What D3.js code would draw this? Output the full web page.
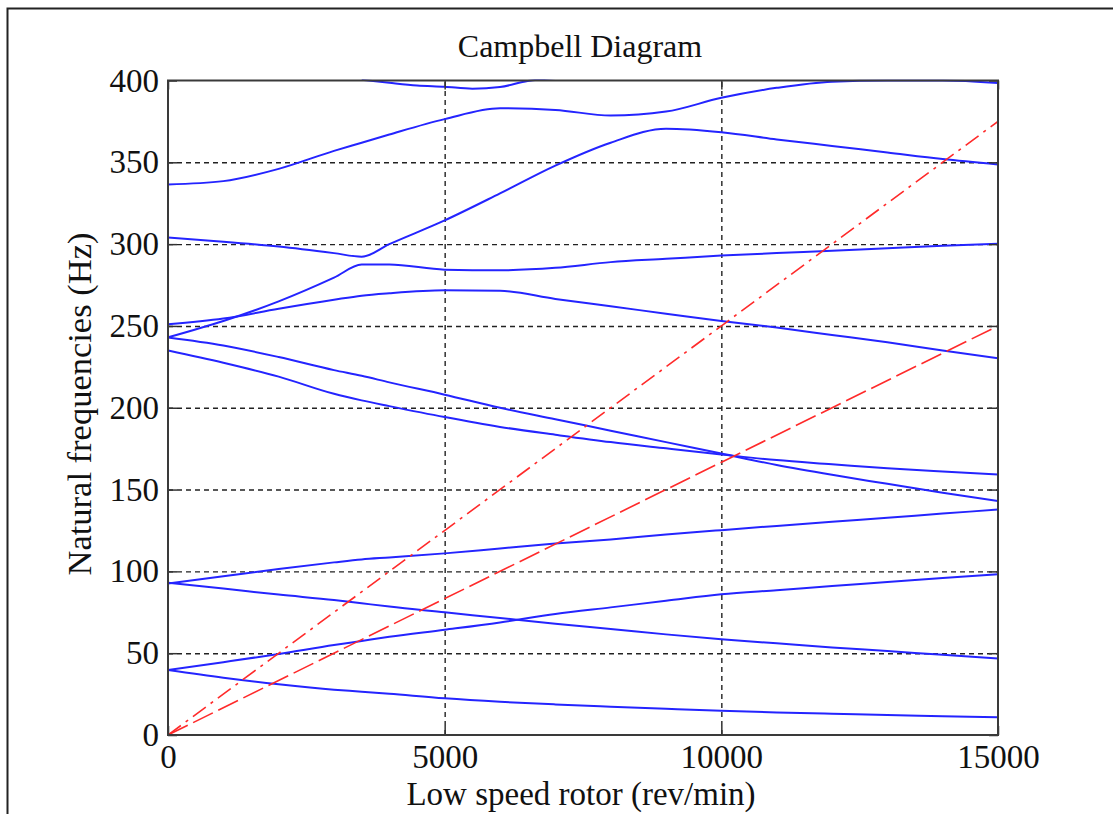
<!DOCTYPE html>
<html>
<head>
<meta charset="utf-8">
<title>Campbell Diagram</title>
<style>
  body { margin: 0; background: #fff; }
  svg { display: block; font-family: "Liberation Serif", "Times New Roman", serif; }
  .grid line { stroke: #222; stroke-width: 1.4; stroke-dasharray: 5,4; }
  .grid .domain { display: none; }
  .ticks line { stroke: #333; stroke-width: 1.5; }
  .ticks .domain { display: none; }
  .mode { fill: none; stroke: #2424ff; stroke-width: 2; }
  .order { fill: none; stroke: #ff2a2a; stroke-width: 1.6; }
</style>
</head>
<body>
<svg id="chart"></svg>
<script src="https://d3js.org/d3.v7.min.js"></script>
<script>
// rotor speed samples (rev/min) shared by the mode curves
const speeds = [0, 1000, 2000, 3000, 3500, 4000, 5000, 6000, 7000, 8000, 9000, 10000, 11000, 12000, 13000, 14000, 15000];

// natural frequencies (Hz)
const mode1  = [39.7, 35, 31, 27.7, 26.5, 25.2, 22.4, 20.3, 18.7, 17.3, 16, 14.8, 13.8, 13, 12.2, 11.5, 10.8];
const mode2  = [39.7, 44.5, 49.5, 55, 57.5, 60, 64.3, 68.8, 74, 78, 82, 86, 88.5, 91, 93.5, 96, 98.2];
const mode3  = [93, 89.5, 85.8, 82.5, 80.5, 78.5, 75, 71.5, 68, 64.8, 61.5, 58.5, 56, 53.5, 51.3, 49, 46.8];
const mode4  = [92.6, 97, 101.5, 105.5, 107.3, 108.5, 111, 114, 117, 119.5, 122.5, 125.2, 127.8, 130.3, 132.8, 135.3, 137.8];
const mode5  = [242.9, 238, 231, 223, 219.5, 215.5, 208, 200, 193, 186, 179, 172, 165, 159, 153.5, 148, 143];
const mode6  = [235, 227.5, 219, 208.5, 204.5, 201, 194.3, 188.3, 183.5, 179, 175.2, 171.5, 168, 165.5, 163, 161, 159.2];
const mode7  = [251, 254.5, 260.5, 266, 268.5, 270, 271.8, 271.5, 266.5, 262, 257.5, 253, 249, 244.5, 240, 235, 230.2];
const mode8  = [243, 253, 265, 279.5, 287.5, 287.6, 284.4, 284, 285.5, 289, 291, 293, 294.5, 296, 297.5, 299, 300.2];
const mode9  = [304, 301.5, 298.5, 294.5, 292.3, 300, 314.5, 331, 348, 362, 370.5, 368.4, 364, 360, 356, 352, 348.7];
const mode10 = [336.5, 338.5, 346, 357, 362, 367, 376.4, 383, 382, 378.6, 381, 389.4, 395.5, 399.3, 400, 400, 398.5];

// short branch that dips below the 400 Hz top edge
const topSpeeds = [3500, 4000, 4500, 5000, 5500, 6000, 6500, 7000];
const mode11    = [400.4, 398.6, 397, 396.2, 395, 396, 399.7, 401.5];

// excitation lines (1x and 1.5x running speed)
const orderSpeeds = [0, 15000];
const order1  = [0, 250];
const order15 = [0, 375];

const xTicks = [0, 5000, 10000, 15000];
const yTicks = [0, 50, 100, 150, 200, 250, 300, 350, 400];

const width = 1113, height = 814;
const plotLeft = 168, plotRight = 998, plotTop = 80.5, plotBottom = 735;

const svg = d3.select('#chart').attr('width', width).attr('height', height);

const x = d3.scaleLinear().domain([0, 15000]).range([plotLeft, plotRight]);
const y = d3.scaleLinear().domain([0, 400]).range([plotBottom, plotTop]);

// outer frame of the figure (top and left edges visible)
svg.append('path')
  .attr('d', `M7.5,${height} V8.5 H${width}`)
  .attr('fill', 'none').attr('stroke', '#222').attr('stroke-width', 2);

// dashed grid
svg.append('g').attr('class', 'grid')
  .attr('transform', `translate(0,${plotBottom})`)
  .call(d3.axisBottom(x).tickValues([5000, 10000]).tickSize(-(plotBottom - plotTop)).tickFormat(''));
svg.append('g').attr('class', 'grid')
  .attr('transform', `translate(${plotLeft},0)`)
  .call(d3.axisLeft(y).tickValues(yTicks.slice(1, -1)).tickSize(-(plotRight - plotLeft)).tickFormat(''));

// curves
svg.append('clipPath').attr('id', 'plot')
  .append('rect').attr('x', plotLeft).attr('y', plotTop - 1)
  .attr('width', plotRight - plotLeft).attr('height', plotBottom - plotTop + 1);

const modeLine = d3.line().x((d, i) => x(speeds[i])).y(d => y(d)).curve(d3.curveMonotoneX);
const plot = svg.append('g').attr('clip-path', 'url(#plot)');

[mode1, mode2, mode3, mode4, mode5, mode6, mode7, mode8, mode9, mode10].forEach(m => {
  plot.append('path').attr('class', 'mode').attr('d', modeLine(m));
});
plot.append('path').attr('class', 'mode')
  .attr('d', d3.line().x((d, i) => x(topSpeeds[i])).y(d => y(d)).curve(d3.curveMonotoneX)(mode11));

const orderLine = d3.line().x((d, i) => x(orderSpeeds[i])).y(d => y(d));
plot.append('path').attr('class', 'order').attr('stroke-dasharray', '22,6').attr('d', orderLine(order1));
plot.append('path').attr('class', 'order').attr('stroke-dasharray', '16,6,3,6').attr('d', orderLine(order15));

// inward ticks on all four sides
const tickFont = g => g.selectAll('text').attr('font-family', '"Liberation Serif", "Times New Roman", serif')
  .attr('font-size', 33).attr('fill', '#111');

svg.append('g').attr('class', 'ticks')
  .attr('transform', `translate(0,${plotBottom})`)
  .call(d3.axisBottom(x).tickValues(xTicks).tickSize(-9).tickPadding(10).tickFormat(d3.format('d')))
  .call(tickFont);
svg.append('g').attr('class', 'ticks')
  .attr('transform', `translate(${plotLeft},0)`)
  .call(d3.axisLeft(y).tickValues(yTicks).tickSize(-9).tickPadding(9).tickFormat(d3.format('d')))
  .call(tickFont);
svg.append('g').attr('class', 'ticks')
  .attr('transform', `translate(0,${plotTop})`)
  .call(d3.axisTop(x).tickValues(xTicks).tickSize(-9).tickFormat(''));
svg.append('g').attr('class', 'ticks')
  .attr('transform', `translate(${plotRight},0)`)
  .call(d3.axisRight(y).tickValues(yTicks).tickSize(-9).tickFormat(''));

// axes box
svg.append('rect')
  .attr('x', plotLeft).attr('y', plotTop)
  .attr('width', plotRight - plotLeft).attr('height', plotBottom - plotTop)
  .attr('fill', 'none').attr('stroke', '#3a3a3a').attr('stroke-width', 2);

// titles
svg.append('text')
  .attr('x', 580).attr('y', 57)
  .attr('text-anchor', 'middle').attr('font-size', 32).attr('fill', '#111')
  .text('Campbell Diagram');
svg.append('text')
  .attr('x', 581).attr('y', 805)
  .attr('text-anchor', 'middle').attr('font-size', 33).attr('fill', '#111')
  .text('Low speed rotor (rev/min)');
svg.append('text')
  .attr('transform', 'translate(91,404) rotate(-90)')
  .attr('text-anchor', 'middle').attr('font-size', 34.5).attr('fill', '#111')
  .text('Natural frequencies (Hz)');
</script>
</body>
</html>
